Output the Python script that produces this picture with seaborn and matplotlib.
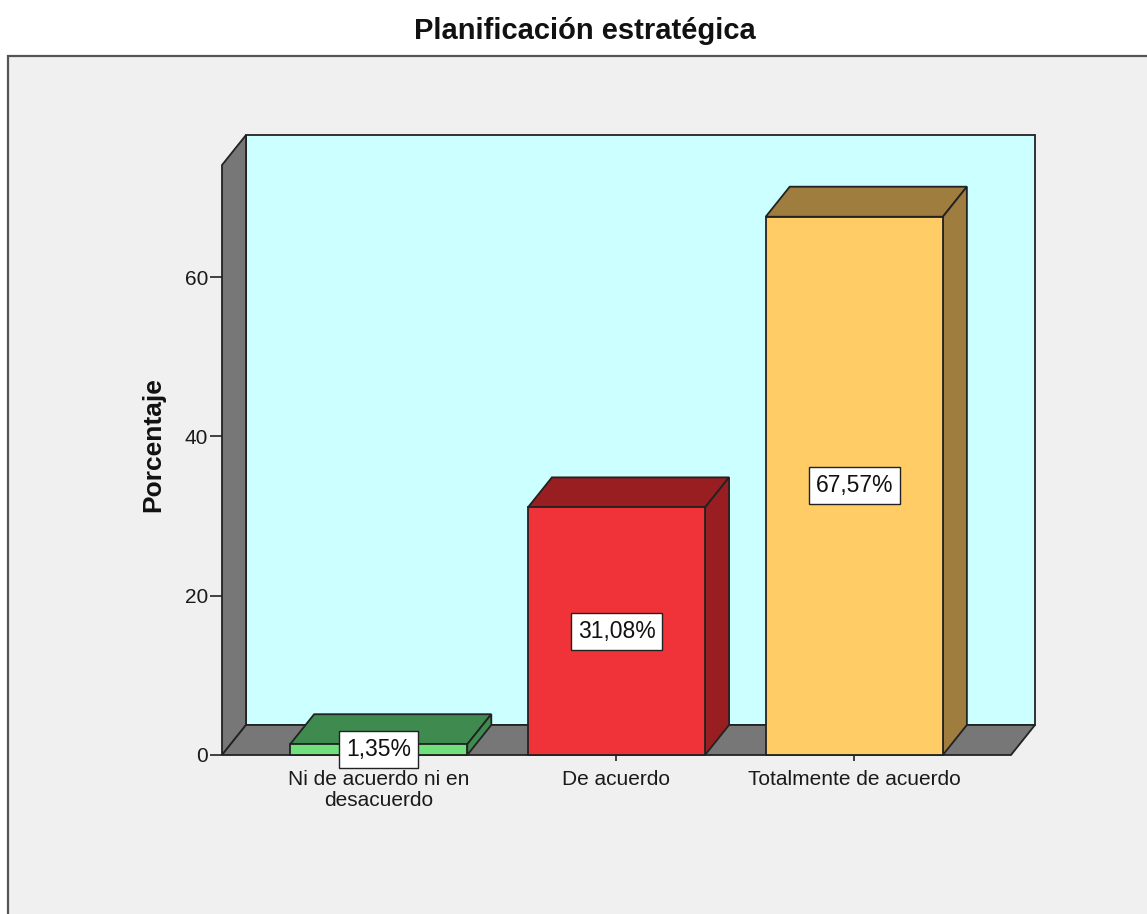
import matplotlib
matplotlib.use("Agg")
import matplotlib.pyplot as plt
from matplotlib.patches import Polygon, Rectangle
import seaborn as sns
import pandas as pd

categories = ["Ni de acuerdo ni en\ndesacuerdo", "De acuerdo", "Totalmente de acuerdo"]
values = [1.35, 31.08, 67.57]
labels = ["1,35%", "31,08%", "67,57%"]
front_colors = ["#6fe07c", "#ef3339", "#ffcc66"]
dark_colors = ["#3f8a4f", "#981e22", "#9e7d3e"]
yticks = [0, 20, 40, 60]

sns.set_theme(style="white")
plt.rcParams["font.family"] = ["Liberation Sans", "DejaVu Sans"]

W, H = 1147, 914
fig = plt.figure(figsize=(W / 100, H / 100), dpi=100)
fig.patch.set_facecolor("white")

# outer gray panel
fig.patches.append(Rectangle((8 / W, -0.1), 1.2, (H - 56) / H + 0.1, transform=fig.transFigure,
                             facecolor="#f0f0f0", edgecolor="#555555", linewidth=1.6, zorder=-5))

# axes in pixel layout
left_px, right_px, bot_px, top_px = 222, 1035, 755, 135
ax = fig.add_axes([left_px / W, (H - bot_px) / H, (right_px - left_px) / W, (bot_px - top_px) / H])
ax.set_facecolor("none")
ax.set_zorder(2)

x0, x1 = -0.659, 2.659
dx, dy = 0.101, 3.77
ymax_front = 74.06

edge = "#222222"
lw = 1.3
# back wall
ax.add_patch(Rectangle((x0 + dx, dy), (x1 - x0), ymax_front, facecolor="#ccffff",
                       edgecolor=edge, linewidth=lw, clip_on=False, zorder=1))
# left wall
ax.add_patch(Polygon([(x0, 0), (x0 + dx, dy), (x0 + dx, ymax_front + dy), (x0, ymax_front)],
                     closed=True, facecolor="#777777", edgecolor=edge, linewidth=lw, clip_on=False, zorder=1))
# floor
ax.add_patch(Polygon([(x0, 0), (x1, 0), (x1 + dx, dy), (x0 + dx, dy)],
                     closed=True, facecolor="#777777", edgecolor=edge, linewidth=lw, clip_on=False, zorder=1))

df = pd.DataFrame({"cat": categories, "val": values})
bw = 0.745
sns.barplot(data=df, x="cat", y="val", hue="cat", palette=front_colors, order=categories,
            hue_order=categories, width=bw, legend=False, edgecolor=edge, linewidth=lw,
            saturation=1, ax=ax, zorder=3)
for p in ax.patches:
    p.set_clip_on(False)

for i, (v, dc) in enumerate(zip(values, dark_colors)):
    bx0, bx1 = i - bw / 2, i + bw / 2
    ax.add_patch(Polygon([(bx0, v), (bx1, v), (bx1 + dx, v + dy), (bx0 + dx, v + dy)], closed=True,
                         facecolor=dc, edgecolor=edge, linewidth=lw, clip_on=False, zorder=2.5))
    ax.add_patch(Polygon([(bx1, 0), (bx1 + dx, dy), (bx1 + dx, v + dy), (bx1, v)], closed=True,
                         facecolor=dc, edgecolor=edge, linewidth=lw, clip_on=False, zorder=2.5))
    ax.text(i, v / 2, labels[i], ha="center", va="center", fontsize=16.5, color="#111111", zorder=5,
            bbox=dict(boxstyle="square,pad=0.3", facecolor="white", edgecolor="#222222", linewidth=1))

ax.set_xlim(x0, x1 + dx)
ax.set_ylim(0, ymax_front + dy)

for s in ax.spines.values():
    s.set_visible(False)
ax.set_yticks(yticks)
ax.set_yticklabels([str(t) for t in yticks], fontsize=15, color="#1a1a1a")
ax.tick_params(axis="y", left=True, length=9, width=1.2, color="#222222", pad=1)
ax.tick_params(axis="x", bottom=True, length=4, width=1.2, color="#222222", pad=7)
ax.set_xticks(range(len(categories)))
ax.set_xticklabels(categories, fontsize=15, color="#1a1a1a", linespacing=1.1)
ax.set_xlabel("")
ax.set_ylabel("Porcentaje", fontsize=19, fontweight="bold", color="#111111", labelpad=14)

fig.text(585 / W, 1 - 31 / H, "Planificación estratégica", ha="center", va="center",
         fontsize=21, fontweight="bold", color="#111111")

fig.savefig("out.png", dpi=100)
